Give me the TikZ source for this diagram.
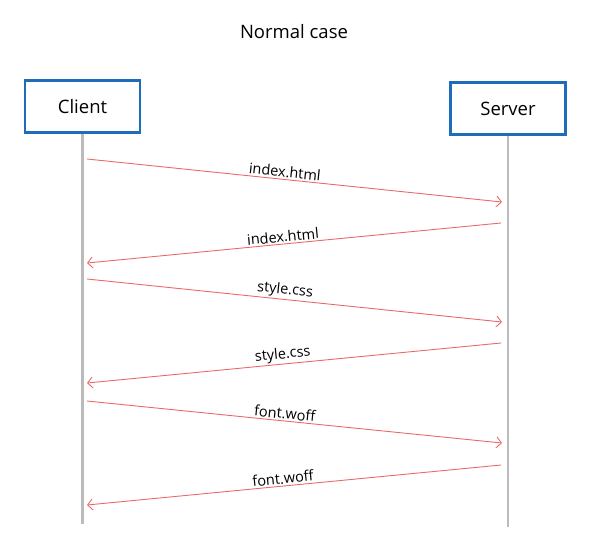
\documentclass[tikz,border=0pt]{standalone}
\usepackage{fontspec}
\setmainfont{Open Sans}
\usetikzlibrary{arrows.meta}
\definecolor{boxblue}{HTML}{1F6DBA}
\definecolor{msgred}{HTML}{E86A6A}
\definecolor{lifegray}{HTML}{BBBBBB}
\begin{document}
\begin{tikzpicture}[x=1pt,y=-1pt,
  actor/.style={draw=boxblue,line width=2.2pt,minimum width=115pt,minimum height=52pt,inner sep=0pt,font=\fontsize{18.5}{22}\selectfont},
  life/.style={draw=lifegray,line width=2.6pt},
  msg/.style={draw=msgred,line width=0.9pt,-{Straight Barb[length=5pt,width=11pt,line width=0.9pt]}},
  lbl/.style={sloped,above,font=\fontsize{14.5}{16}\selectfont,inner sep=1.5pt}]
\useasboundingbox (0,0) rectangle (591,555);
\node[font=\fontsize{18.5}{22}\selectfont] (title) at (294,32) {Normal case};
\node[actor] (client) at (82.5,106.5) {Client};
\node[actor] (server) at (508,108.5) {Server};
\coordinate (cend) at (82.5,524);
\coordinate (send) at (508,527);
\draw[life] (client.south) -- (cend);
\draw[life] (server.south) -- (send);
\coordinate (c1) at (87,159); \coordinate (s1) at (502,202);
\coordinate (s2) at (501,223); \coordinate (c2) at (87,263);
\coordinate (c3) at (87,279); \coordinate (s3) at (502,322);
\coordinate (s4) at (501,343); \coordinate (c4) at (87,383);
\coordinate (c5) at (87,401); \coordinate (s5) at (502,443);
\coordinate (s6) at (501,465); \coordinate (c6) at (87,505);
\draw[msg] (c1) -- node[lbl,pos=0.475] {index.html} (s1);
\draw[msg] (s2) -- node[lbl,pos=0.525] {index.html} (c2);
\draw[msg] (c3) -- node[lbl,pos=0.475] {style.css} (s3);
\draw[msg] (s4) -- node[lbl,pos=0.525] {style.css} (c4);
\draw[msg] (c5) -- node[lbl,pos=0.475] {font.woff} (s5);
\draw[msg] (s6) -- node[lbl,pos=0.525] {font.woff} (c6);
\end{tikzpicture}
\end{document}
